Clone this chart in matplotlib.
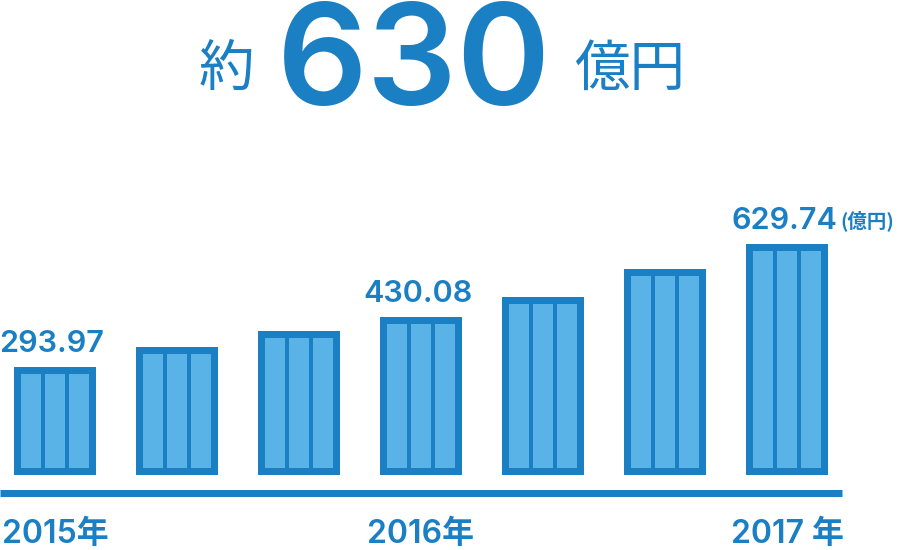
import matplotlib
matplotlib.use('Agg')
import matplotlib.pyplot as plt
import numpy as np

# data (億円)
values = [293.97, 349, 392, 430.08, 485, 561, 629.74]
shown_labels = {0: '293.97', 3: '430.08', 6: '629.74'}
year_labels = {0: '2015年', 3: '2016年', 6: '2017 年'}
headline = '630'

DARK = '#1b7fc3'
LIGHT = '#5ab3e6'

# layout in pixels
W, H = 900, 550
FIRST_PX = 55
PITCH_PX = 122
BAR_PX = 82
BORDER_PX = 7
DIV_PX = 4.3
BASE_PX = 475
SCALE = 0.367          # px per 億円

DIGITS = ['Inter', 'Noto Sans CJK JP']
CJK = ['Noto Sans CJK JP', 'DejaVu Sans']

fig = plt.figure(figsize=(W / 100, H / 100), dpi=100)
ax = fig.add_axes([0, 0, 1, 1])
ax.set_xlim(-FIRST_PX / PITCH_PX, (W - FIRST_PX) / PITCH_PX)
ax.set_ylim(-(H - BASE_PX) / SCALE, BASE_PX / SCALE)
ax.axis('off')

x = np.arange(len(values))
v = np.array(values)

# outer dark bar
ax.bar(x, v, width=BAR_PX / PITCH_PX, color=DARK, linewidth=0)
# three light cells inside
cell_px = (BAR_PX - 2 * BORDER_PX - 2 * DIV_PX) / 3
for k in (-1, 0, 1):
    ax.bar(x + k * (cell_px + DIV_PX) / PITCH_PX, v - 2 * BORDER_PX / SCALE,
           bottom=BORDER_PX / SCALE, width=cell_px / PITCH_PX,
           color=LIGHT, linewidth=0)

# base line
base_y = -(492.5 - BASE_PX) / SCALE
ax.plot([-FIRST_PX / PITCH_PX, (842 - FIRST_PX) / PITCH_PX], [base_y, base_y],
        color=DARK, lw=7 * 0.72, solid_capstyle='butt')

# value labels
for i, lab in shown_labels.items():
    t = ax.annotate(lab, xy=(x[i], v[i]), xytext=(-3, 15), textcoords='offset pixels',
                    ha='center', va='baseline', fontsize=22, fontweight='semibold',
                    color=DARK, family=DIGITS)
    if i == len(values) - 1:
        ax.annotate('(億円)', xy=(1, 0.5), xycoords=t, xytext=(3, 0),
                    textcoords='offset pixels', ha='left', va='center',
                    fontsize=14, fontweight='bold', color=DARK, family=CJK)

# year labels
for i, lab in year_labels.items():
    ax.annotate(lab, xy=(x[i], 0), xytext=(0, -(543 - BASE_PX)), textcoords='offset pixels',
                ha='center', va='baseline', fontsize=23, fontweight='semibold',
                color=DARK, family=DIGITS)

# headline
fig.text(414 / W, 1 - 105 / H, headline, ha='center', va='baseline',
         fontsize=102, fontweight='semibold', color=DARK, family=DIGITS)
fig.text(226 / W, 1 - 70 / H, '約', ha='center', va='center',
         fontsize=40, color=DARK, family=CJK)
fig.text(630 / W, 1 - 70 / H, '億円', ha='center', va='center',
         fontsize=40, color=DARK, family=CJK)

fig.savefig('out.png', dpi=100, facecolor='white')
